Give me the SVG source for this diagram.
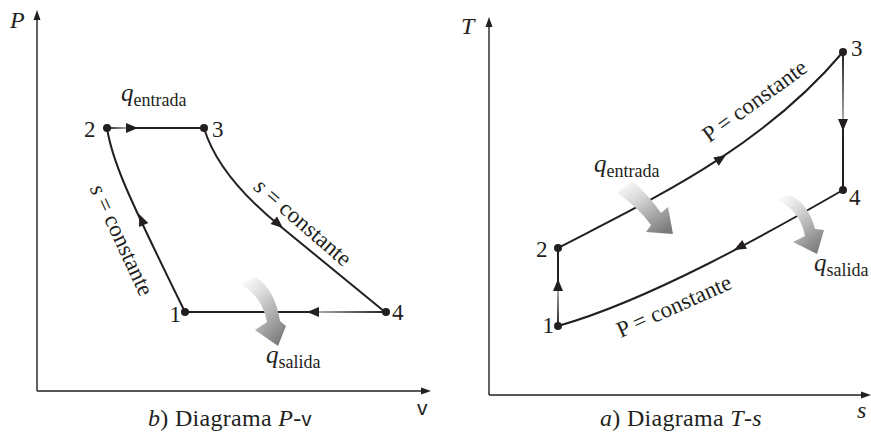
<svg xmlns="http://www.w3.org/2000/svg" xmlns:xlink="http://www.w3.org/1999/xlink" width="871" height="438" viewBox="0 0 871 438">
<style>
  text { font-family: "Liberation Serif", "Times New Roman", serif; fill: #231f20; }
  .lbl { font-size: 23px; }
  .ax { font-size: 24px; font-style: italic; }
  .q { font-size: 25px; font-style: italic; }
  .sub { font-size: 18px; font-style: normal; }
  .title { font-size: 24px; letter-spacing: 0.3px; }
  .it { font-style: italic; }
  .sans { font-family: "Liberation Sans", "DejaVu Sans", sans-serif; }
  .axis { stroke: #231f20; stroke-width: 1.4; fill: none; }
  .cyc { stroke: #231f20; stroke-width: 2; fill: none; }
  .dot { fill: #231f20; }
  .head { fill: #231f20; }
</style>
<defs>
  <path id="ah" d="M0,0 L-12,-5 L-12,5 Z"/>
  <path id="axh" d="M0,0 L-10,-3.5 L-10,3.5 Z"/>
  <linearGradient id="heat" x1="0.1" y1="0" x2="0.8" y2="1">
    <stop offset="0" stop-color="#ffffff"/>
    <stop offset="0.35" stop-color="#d8d8d8"/>
    <stop offset="1" stop-color="#7a7a7a"/>
  </linearGradient>
  <linearGradient id="g23" gradientUnits="userSpaceOnUse" x1="107" y1="0" x2="126" y2="0">
    <stop offset="0" stop-color="#231f20"/><stop offset="1" stop-color="#a8a8a8"/>
  </linearGradient>
  <linearGradient id="g41" gradientUnits="userSpaceOnUse" x1="386" y1="0" x2="319" y2="0">
    <stop offset="0" stop-color="#231f20"/><stop offset="1" stop-color="#a8a8a8"/>
  </linearGradient>
  <linearGradient id="g34" gradientUnits="userSpaceOnUse" x1="0" y1="52" x2="0" y2="119">
    <stop offset="0" stop-color="#231f20"/><stop offset="1" stop-color="#a8a8a8"/>
  </linearGradient>
  <linearGradient id="g12" gradientUnits="userSpaceOnUse" x1="0" y1="326" x2="0" y2="291">
    <stop offset="0" stop-color="#231f20"/><stop offset="1" stop-color="#a8a8a8"/>
  </linearGradient>
</defs>
<rect width="871" height="438" fill="#ffffff"/>

<!-- Left panel: P-v -->
<g id="axes-pv">
  <line class="axis" x1="37" y1="391" x2="37" y2="18"/>
  <use href="#axh" class="head" transform="translate(37,10) rotate(-90)"/>
  <line class="axis" x1="37" y1="391" x2="423" y2="391"/>
  <use href="#axh" class="head" transform="translate(431,391)"/>
  <text class="ax" x="10" y="28">P</text>
  <text class="sans" x="417" y="415" font-size="21">v</text>
  <text class="title" x="148" y="426"><tspan class="it">b</tspan>) Diagrama <tspan class="it">P</tspan>-<tspan class="sans" font-size="20">v</tspan></text>
</g>

<g id="connectors-pv">
  <line class="cyc" x1="107" y1="128" x2="204" y2="128"/>
  <line x1="107" y1="128" x2="127" y2="128" stroke="url(#g23)" stroke-width="2"/>
  <use href="#ah" class="head" transform="translate(138,128)"/>
  <path class="cyc" d="M204,128 C215,165 248,200 280,226 L385,312"/>
  <use href="#ah" class="head" transform="translate(283,228) rotate(40)"/>
  <line class="cyc" x1="386" y1="312" x2="186" y2="312"/>
  <line x1="386" y1="312" x2="318" y2="312" stroke="url(#g41)" stroke-width="2"/>
  <use href="#ah" class="head" transform="translate(307,312) rotate(180)"/>
  <path class="cyc" d="M107,128 C112,160 125,190 185,312"/>
  <use href="#ah" class="head" transform="translate(139,214) rotate(-113)"/>
  <text class="lbl" transform="translate(298,228) rotate(41)" text-anchor="middle"><tspan class="it">s</tspan> = constante</text>
  <text class="lbl" transform="translate(115,243) rotate(65)" text-anchor="middle"><tspan class="it">s</tspan> = constante</text>
  <path d="M240,284 Q262,296 267,322 L255,330 L278,346 L286,326 L280,321 Q275,290 256,277 Z" fill="url(#heat)"/>
  <text class="q" x="121" y="101">q<tspan class="sub" dy="5">entrada</tspan></text>
  <text class="q" x="266" y="363">q<tspan class="sub" dy="5">salida</tspan></text>
</g>

<g id="pv-node-1"><circle class="dot" cx="185" cy="312" r="4"/><text class="lbl" x="181" y="322" text-anchor="end">1</text></g>
<g id="pv-node-2"><circle class="dot" cx="107" cy="128" r="4"/><text class="lbl" x="84" y="137">2</text></g>
<g id="pv-node-3"><circle class="dot" cx="204" cy="128" r="4"/><text class="lbl" x="212" y="137">3</text></g>
<g id="pv-node-4"><circle class="dot" cx="386" cy="312" r="4"/><text class="lbl" x="392" y="320">4</text></g>

<!-- Right panel: T-s -->
<g id="axes-ts">
  <line class="axis" x1="489" y1="395" x2="489" y2="25"/>
  <use href="#axh" class="head" transform="translate(489,17) rotate(-90)"/>
  <line class="axis" x1="489" y1="395" x2="862" y2="395"/>
  <use href="#axh" class="head" transform="translate(871,395)"/>
  <text class="ax" x="461" y="34">T</text>
  <text class="ax" x="857" y="418">s</text>
  <text class="title" x="600" y="426"><tspan class="it">a</tspan>) Diagrama <tspan class="it">T</tspan>-<tspan class="it">s</tspan></text>
</g>

<g id="connectors-ts">
  <path class="cyc" d="M558,248 C650,200 760,150 843,52"/>
  <use href="#ah" class="head" transform="translate(726,155) rotate(-34)"/>
  <line class="cyc" x1="843" y1="52" x2="843" y2="190"/>
  <line x1="843" y1="56" x2="843" y2="119" stroke="url(#g34)" stroke-width="2"/>
  <use href="#ah" class="head" transform="translate(843,131) rotate(90)"/>
  <path class="cyc" d="M843,190 C770,232 650,300 558,326"/>
  <use href="#ah" class="head" transform="translate(734,250) rotate(152)"/>
  <line class="cyc" x1="558" y1="326" x2="558" y2="248"/>
  <line x1="558" y1="322" x2="558" y2="291" stroke="url(#g12)" stroke-width="2"/>
  <use href="#ah" class="head" transform="translate(558,279) rotate(-90)"/>
  <text class="lbl" transform="translate(759,107) rotate(-36)" text-anchor="middle">P = constante</text>
  <text class="lbl" transform="translate(677,313) rotate(-24)" text-anchor="middle">P = constante</text>
  <path d="M617,193 Q637,206 651,225 L646,232 L673,234 L668,207 L661,213 Q648,194 632,181 Z" fill="url(#heat)"/>
  <path d="M776,199 Q800,210 805,236 L793,242 L817,254 L824,230 L815,229 Q808,203 790,195 Z" fill="url(#heat)"/>
  <text class="q" x="594" y="172">q<tspan class="sub" dy="5">entrada</tspan></text>
  <text class="q" x="814" y="271">q<tspan class="sub" dy="5">salida</tspan></text>
</g>

<g id="ts-node-1"><circle class="dot" cx="558" cy="326" r="4"/><text class="lbl" x="554" y="333" text-anchor="end">1</text></g>
<g id="ts-node-2"><circle class="dot" cx="558" cy="248" r="4"/><text class="lbl" x="536" y="257">2</text></g>
<g id="ts-node-3"><circle class="dot" cx="843" cy="52" r="4"/><text class="lbl" x="851" y="56">3</text></g>
<g id="ts-node-4"><circle class="dot" cx="843" cy="190" r="4"/><text class="lbl" x="849" y="205">4</text></g>
</svg>
